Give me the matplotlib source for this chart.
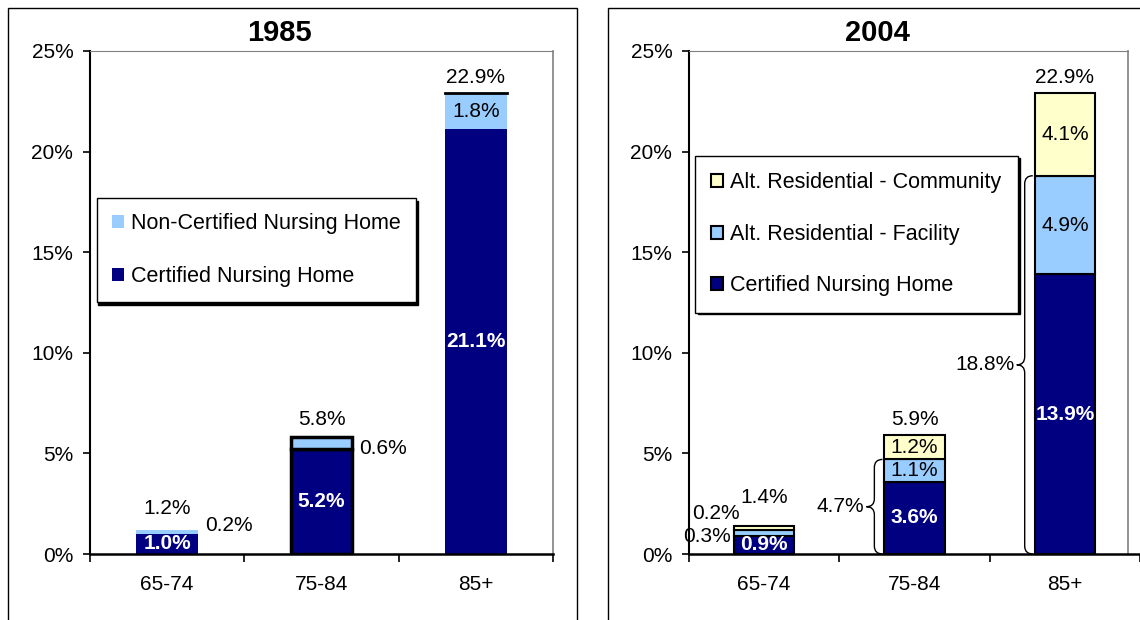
import matplotlib
matplotlib.use("Agg")
import matplotlib.pyplot as plt
import numpy as np
from matplotlib.patches import Rectangle, PathPatch
from matplotlib.path import Path
from matplotlib.ticker import FuncFormatter

plt.rcParams['font.family'] = ['Liberation Sans', 'DejaVu Sans']

# DATA
ages = ["65-74", "75-84", "85+"]

cert_1985 = [1.0, 5.2, 21.1]
noncert_1985 = [0.2, 0.6, 1.8]
total_1985 = [1.2, 5.8, 22.9]

cert_2004 = [0.9, 3.6, 13.9]
facility_2004 = [0.3, 1.1, 4.9]
community_2004 = [0.2, 1.2, 4.1]
total_2004 = [1.4, 5.9, 22.9]
brace_2004 = [None, 4.7, 18.8]

NAVY = "#000080"
LBLUE = "#99CCFF"
LYELLOW = "#FFFFCC"
GRAY = "#808080"
FS = 15
LFS = 15.5
W, H = 1140, 620
BAR_W = 0.40


def px_axes(fig, x0, x1, ytop, ybot):
    return fig.add_axes([x0 / W, (H - ybot) / H, (x1 - x0) / W, (ybot - ytop) / H])


def style_axes(ax, right_end=2.5):
    ax.set_xlim(-0.5, 2.5)
    ax.set_ylim(0, 25)
    ax.set_yticks([0, 5, 10, 15, 20, 25])
    ax.yaxis.set_major_formatter(FuncFormatter(lambda v, p: f"{v:.0f}%"))
    ax.set_xticks(range(3))
    ax.set_xticklabels(ages)
    ax.set_xticks([-0.5, 0.5, 1.5, 2.5], minor=True)
    ax.tick_params(axis="x", which="major", length=0, pad=15, labelsize=FS)
    ax.tick_params(axis="x", which="minor", length=6, direction="out", width=1.2)
    ax.tick_params(axis="y", length=5, width=1.2, direction="out", pad=7, labelsize=FS)
    ax.spines["left"].set_linewidth(1.5)
    ax.spines["bottom"].set_linewidth(1.8)
    ax.spines["top"].set_color(GRAY)
    ax.spines["top"].set_bounds(-0.5, right_end)
    ax.spines["right"].set_visible(False)
    ax.plot([right_end, right_end], [0, 25], color=GRAY, lw=1.2, clip_on=False)


def lab(ax, x, y, s, white=False, dx=0, dy=0, ha="center"):
    ax.annotate(s, (x, y), xytext=(dx, dy), textcoords="offset pixels",
                ha=ha, va="center", fontsize=FS,
                color="white" if white else "black",
                fontweight="bold" if white else "normal")


def brace(ax, left, y0, y1):
    xe, xv, xt = left - 0.013, left - 0.067, left - 0.12
    ym = (y0 + y1) / 2
    r = 0.4
    verts = [(xe, y1), (xv, y1), (xv, y1 - r), (xv, ym + r), (xv, ym), (xt, ym),
             (xv, ym), (xv, ym - r), (xv, y0 + r), (xv, y0), (xe, y0)]
    codes = [Path.MOVETO, Path.CURVE3, Path.CURVE3, Path.LINETO, Path.CURVE3, Path.CURVE3,
             Path.CURVE3, Path.CURVE3, Path.LINETO, Path.CURVE3, Path.CURVE3]
    ax.add_patch(PathPatch(Path(verts, codes), fill=False, lw=1.0, color="black", clip_on=False))
    return xt


fig = plt.figure(figsize=(W / 100, H / 100), dpi=100)

# panel frames
fig.add_artist(Rectangle((8 / W, -0.1), 569 / W, (H - 8) / H + 0.1, transform=fig.transFigure,
                         fill=False, lw=1.0, ec="black"))
fig.add_artist(Rectangle((608 / W, -0.1), 600 / W, (H - 8) / H + 0.1, transform=fig.transFigure,
                         fill=False, lw=1.0, ec="black"))

fig.text(279 / W, 1 - 33 / H, "1985", ha="center", va="center", fontsize=21, fontweight="bold")
fig.text(877 / W, 1 - 33 / H, "2004", ha="center", va="center", fontsize=21, fontweight="bold")

# ---- 1985 ----
ax1 = px_axes(fig, 90, 553, 51, 554)
x = np.arange(3)
ax1.bar(x, cert_1985, BAR_W, color=NAVY, edgecolor="black", linewidth=[0, 2.5, 0],
        label="Certified Nursing Home")
ax1.bar(x, noncert_1985, BAR_W, bottom=cert_1985, color=LBLUE, edgecolor="black",
        linewidth=[0, 2.5, 0], label="Non-Certified Nursing Home")
ax1.plot([x[2] - BAR_W / 2, x[2] + BAR_W / 2], [total_1985[2]] * 2, color="black", lw=2)
style_axes(ax1)
for i in range(3):
    lab(ax1, i, cert_1985[i] / 2, f"{cert_1985[i]:.1f}%", white=True)
    mid = cert_1985[i] + noncert_1985[i] / 2
    if i < 2:
        lab(ax1, i + BAR_W / 2, mid, f"{noncert_1985[i]:.1f}%", dx=7, dy=[6, -5][i], ha="left")
    else:
        lab(ax1, i, mid, f"{noncert_1985[i]:.1f}%")
    lab(ax1, i, total_1985[i], f"{total_1985[i]:.1f}%", dy=[21, 18, 16][i])
h, l = ax1.get_legend_handles_labels()
ax1.legend(h[::-1], l[::-1], loc="upper left", bbox_to_anchor=(0.015, 0.708),
           fontsize=LFS, frameon=True, fancybox=False, edgecolor="black",
           handlelength=0.55, handleheight=0.55, handletextpad=0.35,
           labelspacing=1.5, borderpad=0.7, borderaxespad=0,
           shadow={"color": "black", "alpha": 1, "ox": 1, "oy": -2})

# ---- 2004 ----
ax2 = px_axes(fig, 689, 1140, 51, 554)
b1 = np.array(cert_2004)
b2 = b1 + np.array(facility_2004)
ax2.bar(x, cert_2004, BAR_W, color=NAVY, edgecolor="black", linewidth=1.5,
        label="Certified Nursing Home")
ax2.bar(x, facility_2004, BAR_W, bottom=b1, color=LBLUE, edgecolor="black", linewidth=1.5,
        label="Alt. Residential - Facility")
ax2.bar(x, community_2004, BAR_W, bottom=b2, color=LYELLOW, edgecolor="black", linewidth=1.5,
        label="Alt. Residential - Community")
style_axes(ax2, right_end=2.42)
for i in range(3):
    lab(ax2, i, cert_2004[i] / 2, f"{cert_2004[i]:.1f}%", white=True)
    if i == 0:
        lab(ax2, i - BAR_W / 2, b1[i] + facility_2004[i] / 2, f"{facility_2004[i]:.1f}%",
            dx=-3, dy=-4, ha="right")
        lab(ax2, i - BAR_W / 2, b2[i] + community_2004[i] / 2, f"{community_2004[i]:.1f}%",
            dx=6, dy=14, ha="right")
    else:
        lab(ax2, i, b1[i] + facility_2004[i] / 2, f"{facility_2004[i]:.1f}%")
        lab(ax2, i, b2[i] + community_2004[i] / 2, f"{community_2004[i]:.1f}%")
    lab(ax2, i, total_2004[i], f"{total_2004[i]:.1f}%", dy=[28, 16, 16][i])
    if brace_2004[i] is not None:
        xt = brace(ax2, i - BAR_W / 2, 0, brace_2004[i])
        lab(ax2, xt, brace_2004[i] / 2, f"{brace_2004[i]:.1f}%", dx=-2, ha="right")
h, l = ax2.get_legend_handles_labels()
ax2.legend(h[::-1], l[::-1], loc="upper left", bbox_to_anchor=(0.013, 0.791),
           fontsize=LFS, frameon=True, fancybox=False, edgecolor="black",
           handlelength=0.55, handleheight=0.55, handletextpad=0.35,
           labelspacing=1.42, borderpad=0.75, borderaxespad=0,
           shadow={"color": "black", "alpha": 1, "ox": 2, "oy": -1})

fig.savefig("out.png", dpi=100)
